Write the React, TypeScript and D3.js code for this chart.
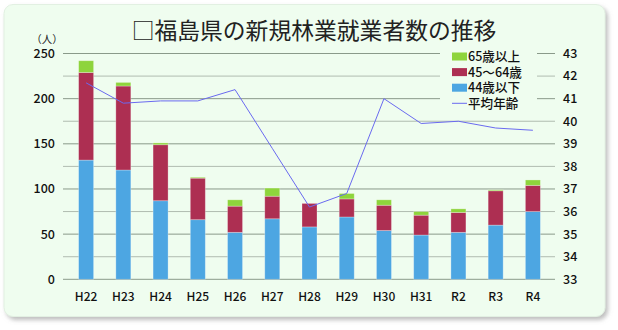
import React from "react";
import * as d3 from "d3";

const categories = ["H22", "H23", "H24", "H25", "H26", "H27", "H28", "H29", "H30", "H31", "R2", "R3", "R4"];
const under44 = [132, 121, 87, 66, 52, 67, 58, 69, 54, 49, 52, 60, 75];
const age45to64 = [97, 93, 62, 46, 29, 25, 26, 20, 28, 22, 22, 38, 29];
const over65 = [13, 4, 2, 1, 7, 9, 0, 6, 6, 4, 4, 1, 6];
const avgAge = [41.7, 40.8, 40.9, 40.9, 41.4, 38.8, 36.2, 36.8, 41.0, 39.9, 40.0, 39.7, 39.6];
const leftTicks = [0, 50, 100, 150, 200, 250];
const rightTicks = [33, 34, 35, 36, 37, 38, 39, 40, 41, 42, 43];
const seriesNames = ["44歳以下", "45〜64歳", "65歳以上"];
const legendLabels = ["65歳以上", "45〜64歳", "44歳以下", "平均年齢"];

const W = 618;
const H = 330;
const BG = "#effdef";
const colors = ["#4da6e2", "#ad2f52", "#8ed43c"];
const lineColor = "#6a6af0";
const FONT = "'Noto Sans CJK JP', 'Noto Sans', sans-serif";

export default function App() {
  const x = d3.scalePoint<string>().domain(categories).range([67.5, 551.5]).padding(0.5);
  const y = d3.scaleLinear().domain([0, 250]).range([279.3, 53.5]);
  const yr = d3.scaleLinear().domain([33, 43]).range([279.3, 53.5]);
  const barW = 15;

  const table = categories.map((c, i) => ({
    cat: c,
    "44歳以下": under44[i],
    "45〜64歳": age45to64[i],
    "65歳以上": over65[i],
  }));
  const stacked = d3.stack<any>().keys(seriesNames)(table);

  const gridVals = d3.range(0, 251, 25);
  const line = d3
    .line<number>()
    .x((_, i) => x(categories[i]) as number)
    .y((d) => yr(d));

  const legendColors = [colors[2], colors[1], colors[0]];

  return (
    <svg width={W} height={H} style={{ position: "absolute", left: 0, top: 0 }} fontFamily={FONT}>
      <defs>
        <filter id="shadow" x="-5%" y="-5%" width="110%" height="115%">
          <feDropShadow dx="2.5" dy="3" stdDeviation="2" floodColor="#888" floodOpacity="0.55" />
        </filter>
      </defs>
      <rect x={0} y={0} width={W} height={H} fill="#ffffff" />
      <rect x={4} y={4.5} width={601} height={312} rx={9} fill={BG} stroke="#e2f0e2" strokeWidth={1} filter="url(#shadow)" />

      <text x={314} y={38.5} textAnchor="middle" fontSize={22.8} fill="#222">
        □福島県の新規林業就業者数の推移
      </text>
      <text x={47} y={43} textAnchor="middle" fontSize={10.5} fill="#222">
        （人）
      </text>

      {gridVals.map((v) => (
        <line
          key={v}
          x1={63}
          x2={555}
          y1={y(v)}
          y2={y(v)}
          stroke={v % 50 === 0 ? "#8a9a8a" : "#b0bcb0"}
          strokeWidth={1}
        />
      ))}

      {leftTicks.map((v) => (
        <text key={v} x={55} y={y(v)} dy="0.35em" textAnchor="end" fontSize={12.5} fontWeight={500} fill="#111">
          {v}
        </text>
      ))}
      {rightTicks.map((v) => (
        <text key={v} x={563} y={yr(v)} dy="0.35em" textAnchor="start" fontSize={12.5} fontWeight={500} fill="#111">
          {v}
        </text>
      ))}

      {stacked.map((s, si) => (
        <g key={s.key}>
          {s.map((d, i) =>
            d[1] - d[0] > 0 ? (
              <rect
                key={i}
                x={(x(categories[i]) as number) - barW / 2}
                y={y(d[1])}
                width={barW}
                height={y(d[0]) - y(d[1])}
                fill={colors[si]}
                stroke="#ffffff"
                strokeOpacity={0.35}
                strokeWidth={0.8}
              />
            ) : null
          )}
        </g>
      ))}

      <path d={line(avgAge) || ""} fill="none" stroke={lineColor} strokeWidth={1} />

      {categories.map((c) => (
        <text key={c} x={x(c)} y={297} dy="0.35em" textAnchor="middle" fontSize={12} fontWeight={500} fill="#111">
          {c}
        </text>
      ))}

      <rect x={440} y={46} width={97} height={66} fill={BG} />
      {legendLabels.map((l, i) => {
        const cy = 56.5 + i * 15.6;
        return (
          <g key={l}>
            {i < 3 ? (
              <rect x={452} y={cy - 4} width={15} height={8} fill={legendColors[i]} />
            ) : (
              <line x1={452} x2={467} y1={cy} y2={cy} stroke={lineColor} strokeWidth={1} />
            )}
            <text x={468} y={cy} dy="0.36em" fontSize={12.6} fontWeight={500} fill="#111">
              {l}
            </text>
          </g>
        );
      })}
    </svg>
  );
}
